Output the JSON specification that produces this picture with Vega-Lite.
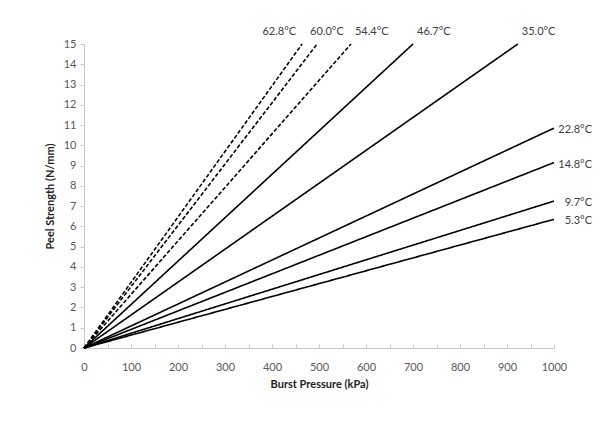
{
  "$schema": "https://vega.github.io/schema/vega-lite/v6.json",
  "width": 470,
  "height": 304,
  "autosize": "none",
  "padding": {"left": 84, "top": 44, "right": 42, "bottom": 75},
  "background": "white",
  "config": {
    "view": {"stroke": null},
    "font": "Lato",
    "axis": {"labelFont": "Lato", "titleFont": "Lato", "labelColor": "#595959", "labelFontSize": 11, "titleFontSize": 11, "titleColor": "#222222", "titleFontWeight": "bold", "domainColor": "#c8c8c8", "tickColor": "#c8c8c8", "grid": false, "labelFlush": false}
  },
  "datasets": {
    "lines": [
      {"series": "62.8°C", "style": "dashed", "x": 0, "y": 0},
      {"series": "62.8°C", "style": "dashed", "x": 464, "y": 15},
      {"series": "60.0°C", "style": "dashed", "x": 0, "y": 0},
      {"series": "60.0°C", "style": "dashed", "x": 496, "y": 15},
      {"series": "54.4°C", "style": "dashed", "x": 0, "y": 0},
      {"series": "54.4°C", "style": "dashed", "x": 568, "y": 15},
      {"series": "46.7°C", "style": "solid", "x": 0, "y": 0},
      {"series": "46.7°C", "style": "solid", "x": 700, "y": 15},
      {"series": "35.0°C", "style": "solid", "x": 0, "y": 0},
      {"series": "35.0°C", "style": "solid", "x": 923, "y": 15},
      {"series": "22.8°C", "style": "solid", "x": 0, "y": 0},
      {"series": "22.8°C", "style": "solid", "x": 1000, "y": 10.85},
      {"series": "14.8°C", "style": "solid", "x": 0, "y": 0},
      {"series": "14.8°C", "style": "solid", "x": 1000, "y": 9.15},
      {"series": "9.7°C", "style": "solid", "x": 0, "y": 0},
      {"series": "9.7°C", "style": "solid", "x": 1000, "y": 7.25},
      {"series": "5.3°C", "style": "solid", "x": 0, "y": 0},
      {"series": "5.3°C", "style": "solid", "x": 1000, "y": 6.35}
    ],
    "ends": [
      {"series": "62.8°C", "pos": "topR", "x": 464, "y": 15},
      {"series": "60.0°C", "pos": "topL", "x": 496, "y": 15},
      {"series": "54.4°C", "pos": "top", "x": 568, "y": 15},
      {"series": "46.7°C", "pos": "top", "x": 700, "y": 15},
      {"series": "35.0°C", "pos": "top", "x": 923, "y": 15},
      {"series": "22.8°C", "pos": "right", "x": 1000, "y": 10.85},
      {"series": "14.8°C", "pos": "right", "x": 1000, "y": 9.15},
      {"series": "9.7°C", "pos": "right", "x": 1000, "y": 7.25},
      {"series": "5.3°C", "pos": "right", "x": 1000, "y": 6.35}
    ]
  },
  "encoding": {
    "x": {"field": "x", "type": "quantitative", "scale": {"domain": [0, 1000], "nice": false},
      "axis": {"title": "Burst Pressure (kPa)", "tickCount": 20, "labelExpr": "datum.value % 100 == 0 ? format(datum.value, 'd') : ''", "labelOverlap": false, "tickSize": -4, "labelPadding": 17, "titlePadding": 6}},
    "y": {"field": "y", "type": "quantitative", "scale": {"domain": [0, 15], "nice": false},
      "axis": {"title": "Peel Strength (N/mm)", "tickCount": 15, "labelOverlap": false, "tickSize": 4, "labelPadding": 4, "titlePadding": 8}}
  },
  "layer": [
    {
      "data": {"name": "lines"},
      "mark": {"type": "line", "color": "black", "strokeWidth": 1.6, "clip": false},
      "encoding": {
        "detail": {"field": "series"},
        "strokeDash": {"field": "style", "type": "nominal", "scale": {"domain": ["solid", "dashed"], "range": [[1, 0], [4, 2]]}, "legend": null}
      }
    },
    {
      "data": {"name": "ends"},
      "transform": [{"filter": "datum.pos == 'right'"}],
      "mark": {"type": "text", "align": "right", "baseline": "middle", "dx": 38, "dy": 2, "fontSize": 11, "color": "#404040", "clip": false},
      "encoding": {"text": {"field": "series"}}
    },
    {
      "data": {"name": "ends"},
      "transform": [{"filter": "datum.pos == 'top'"}],
      "mark": {"type": "text", "align": "left", "baseline": "middle", "dx": 4, "dy": -12, "fontSize": 11, "color": "#404040", "clip": false},
      "encoding": {"text": {"field": "series"}}
    },
    {
      "data": {"name": "ends"},
      "transform": [{"filter": "datum.pos == 'topL'"}],
      "mark": {"type": "text", "align": "left", "baseline": "middle", "dx": -7, "dy": -12, "fontSize": 11, "color": "#404040", "clip": false},
      "encoding": {"text": {"field": "series"}}
    },
    {
      "data": {"name": "ends"},
      "transform": [{"filter": "datum.pos == 'topR'"}],
      "mark": {"type": "text", "align": "right", "baseline": "middle", "dx": -6, "dy": -12, "fontSize": 11, "color": "#404040", "clip": false},
      "encoding": {"text": {"field": "series"}}
    }
  ]
}
